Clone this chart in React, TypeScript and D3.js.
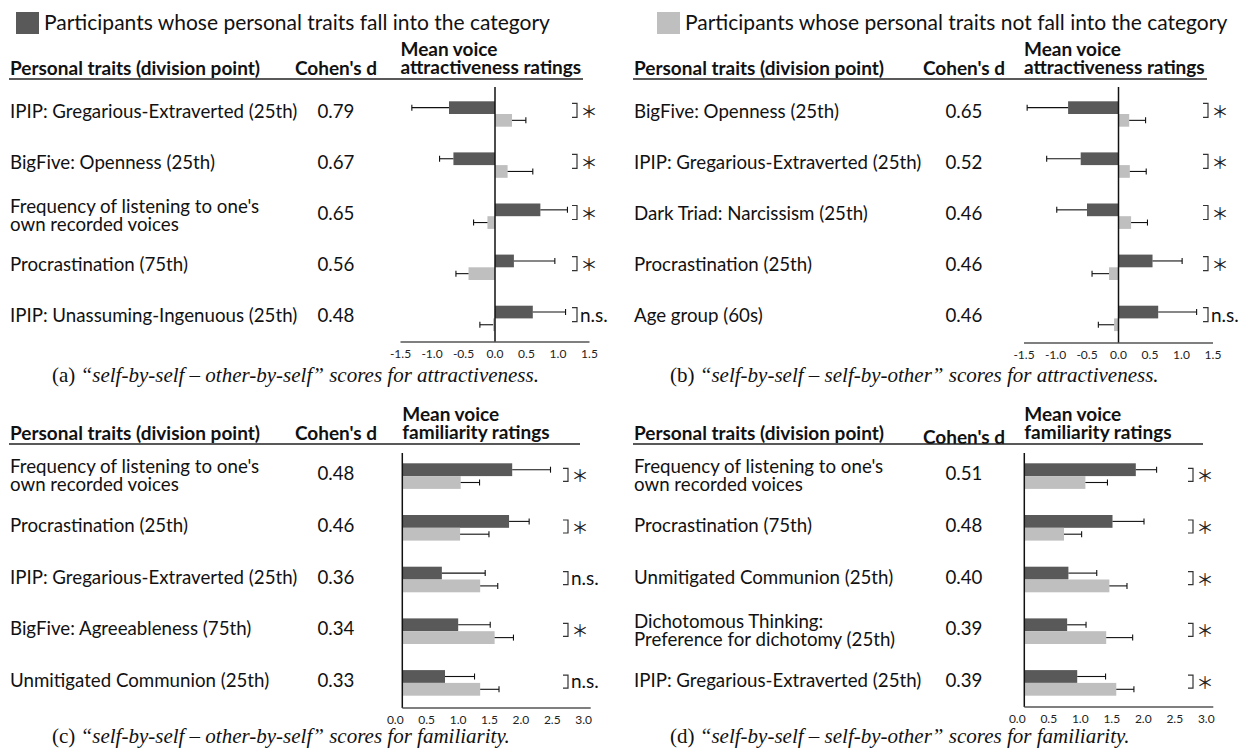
import React from 'react';
import * as d3 from 'd3';

// ---------- DATA ----------
const legendFall = 'Participants whose personal traits fall into the category';
const legendNotFall = 'Participants whose personal traits not fall into the category';

const headerTraits = 'Personal traits (division point)';
const headerCohen = "Cohen's d";

const ticksAttrValues = [-1.5, -1.0, -0.5, 0, 0.5, 1.0, 1.5];
const ticksAttrLabels = ['-1.5', '-1.0', '-0.5', '0.0', '0.5', '1.0', '1.5'];
const ticksFamValues = [0, 0.5, 1.0, 1.5, 2.0, 2.5, 3.0];
const ticksFamLabels = ['0.0', '0.5', '1.0', '1.5', '2.0', '2.5', '3.0'];

// (a) self-by-self – other-by-self, attractiveness
const traitsA = [
  ['IPIP: Gregarious-Extraverted (25th)'],
  ['BigFive: Openness (25th)'],
  ["Frequency of listening to one's", 'own recorded voices'],
  ['Procrastination (75th)'],
  ['IPIP: Unassuming-Ingenuous (25th)'],
];
const cohenA = ['0.79', '0.67', '0.65', '0.56', '0.48'];
const fallA = [-0.73, -0.66, 0.72, 0.30, 0.60];
const fallErrA = [0.59, 0.22, 0.43, 0.65, 0.52];
const notFallA = [0.27, 0.20, -0.12, -0.42, -0.03];
const notFallErrA = [0.22, 0.40, 0.22, 0.20, 0.21];
const sigA = ['*', '*', '*', '*', 'n.s.'];

// (b) self-by-self – self-by-other, attractiveness
const traitsB = [
  ['BigFive: Openness (25th)'],
  ['IPIP: Gregarious-Extraverted (25th)'],
  ['Dark Triad: Narcissism (25th)'],
  ['Procrastination (25th)'],
  ['Age group (60s)'],
];
const cohenB = ['0.65', '0.52', '0.46', '0.46', '0.46'];
const fallB = [-0.80, -0.60, -0.50, 0.54, 0.63];
const fallErrB = [0.65, 0.54, 0.48, 0.47, 0.61];
const notFallB = [0.17, 0.18, 0.20, -0.15, -0.07];
const notFallErrB = [0.26, 0.26, 0.26, 0.27, 0.25];
const sigB = ['*', '*', '*', '*', 'n.s.'];

// (c) self-by-self – other-by-self, familiarity
const traitsC = [
  ["Frequency of listening to one's", 'own recorded voices'],
  ['Procrastination (25th)'],
  ['IPIP: Gregarious-Extraverted (25th)'],
  ['BigFive: Agreeableness (75th)'],
  ['Unmitigated Communion (25th)'],
];
const cohenC = ['0.48', '0.46', '0.36', '0.34', '0.33'];
const fallC = [1.75, 1.70, 0.63, 0.89, 0.68];
const fallErrC = [0.61, 0.32, 0.69, 0.51, 0.47];
const notFallC = [0.93, 0.92, 1.24, 1.47, 1.24];
const notFallErrC = [0.30, 0.46, 0.28, 0.30, 0.30];
const sigC = ['*', '*', 'n.s.', '*', 'n.s.'];

// (d) self-by-self – self-by-other, familiarity
const traitsD = [
  ["Frequency of listening to one's", 'own recorded voices'],
  ['Procrastination (75th)'],
  ['Unmitigated Communion (25th)'],
  ['Dichotomous Thinking:', 'Preference for dichotomy (25th)'],
  ['IPIP: Gregarious-Extraverted (25th)'],
];
const cohenD = ['0.51', '0.48', '0.40', '0.39', '0.39'];
const fallD = [1.77, 1.40, 0.70, 0.68, 0.84];
const fallErrD = [0.33, 0.50, 0.45, 0.30, 0.45];
const notFallD = [0.97, 0.63, 1.35, 1.30, 1.46];
const notFallErrD = [0.35, 0.28, 0.28, 0.42, 0.28];
const sigD = ['*', '*', '*', '*', '*'];

const captionA = ['(a) ', '“self-by-self – other-by-self” scores for attractiveness.'];
const captionB = ['(b) ', '“self-by-self – self-by-other” scores for attractiveness.'];
const captionC = ['(c) ', '“self-by-self – other-by-self” scores for familiarity.'];
const captionD = ['(d) ', '“self-by-self – self-by-other” scores for familiarity.'];

// ---------- STYLE ----------
const FONT = "Lato, 'Noto Sans', sans-serif";
const SERIF = "'Liberation Serif', 'DejaVu Serif', serif";
const DARK = '#595959';
const LIGHT = '#bfbfbf';
const LABEL_SIZE = 18.7;
const HEAD_SIZE = 19;

type PanelCfg = {
  traits: string[][];
  cohen: string[];
  fall: number[];
  fallErr: number[];
  notFall: number[];
  notFallErr: number[];
  sig: string[];
  caption: string[];
  metric: string;
  domain: [number, number];
  tickValues: number[];
  tickLabels: string[];
  tickShift: number;
  xRange: [number, number];
  labelX: number;
  cohenX: number;
  top: number;
  pitch: number;
  barH: number;
  axisY: number;
  zeroTop: number;
  headerBase: number;
  cohenBase: number;
  underlineX1: number;
  bracketX: number;
  bracketTop: number;
  bracketBottom: number;
  captionX: number;
  captionY: number;
};

function Panel({ p }: { p: PanelCfg }) {
  const x = d3.scaleLinear().domain(p.domain).range(p.xRange);
  const y = d3
    .scaleBand<number>()
    .domain(d3.range(p.traits.length))
    .range([p.top, p.top + p.traits.length * p.pitch]);
  const x0 = x(0);
  const marks: React.ReactNode[] = [];
  p.traits.forEach((lines, i) => {
    const yt = y(i)!;
    const series = [
      { v: p.fall[i], e: p.fallErr[i], color: DARK, yy: yt },
      { v: p.notFall[i], e: p.notFallErr[i], color: LIGHT, yy: yt + p.barH },
    ];
    series.forEach((s, k) => {
      const xv = x(s.v);
      const xe = x(s.v + Math.sign(s.v) * s.e);
      const yc = s.yy + p.barH / 2;
      marks.push(
        <g key={`b${i}-${k}`}>
          <rect x={Math.min(x0, xv)} y={s.yy} width={Math.abs(xv - x0)} height={p.barH} fill={s.color} />
          <line x1={xv} x2={xe} y1={yc} y2={yc} stroke="#111" strokeWidth={1.1} />
          <line x1={xe} x2={xe} y1={yc - 3} y2={yc + 3} stroke="#111" strokeWidth={1.1} />
        </g>
      );
    });
    const center = yt + p.barH;
    if (lines.length === 1) {
      marks.push(
        <text key={`l${i}`} x={p.labelX} y={center + 4} fontFamily={FONT} fontSize={LABEL_SIZE} fill="#111">
          {lines[0]}
        </text>
      );
    } else {
      lines.forEach((t, j) => {
        marks.push(
          <text key={`l${i}-${j}`} x={p.labelX} y={center - 3 + j * 17.5} fontFamily={FONT} fontSize={LABEL_SIZE} fill="#111">
            {t}
          </text>
        );
      });
    }
    marks.push(
      <text key={`c${i}`} x={p.cohenX} y={center + 4} textAnchor="middle" fontFamily={FONT} fontSize={LABEL_SIZE} fill="#111">
        {p.cohen[i]}
      </text>
    );
    const bx = p.bracketX;
    marks.push(
      <path
        key={`k${i}`}
        d={`M${bx},${yt + p.bracketTop}H${bx + 5}V${yt + p.bracketBottom}H${bx}`}
        fill="none"
        stroke="#333"
        strokeWidth={1.2}
      />
    );
    if (p.sig[i] === 'n.s.') {
      marks.push(
        <text key={`s${i}`} x={bx + 8} y={yt + p.bracketBottom} fontFamily={FONT} fontSize={19} fill="#111">
          n.s.
        </text>
      );
    } else {
      marks.push(
        <text
          key={`s${i}`}
          x={bx + 17}
          y={yt + (p.bracketTop + p.bracketBottom) / 2}
          textAnchor="middle"
          dominantBaseline="central"
          fontFamily="'Noto Sans CJK JP', sans-serif"
          fontSize={17}
          fill="#222"
        >
          ＊
        </text>
      );
    }
  });

  return (
    <g>
      <text x={p.labelX} y={p.headerBase} fontFamily={FONT} fontWeight="bold" fontSize={HEAD_SIZE} fill="#111">
        {headerTraits}
      </text>
      <text x={p.cohenX} y={p.cohenBase} textAnchor="middle" fontFamily={FONT} fontWeight="bold" fontSize={HEAD_SIZE} fill="#111">
        {headerCohen}
      </text>
      <text x={p.xRange[0]} y={p.headerBase - 19} fontFamily={FONT} fontWeight="bold" fontSize={HEAD_SIZE} fill="#111">
        Mean voice
      </text>
      <text x={p.xRange[0]} y={p.headerBase - 1} fontFamily={FONT} fontWeight="bold" fontSize={HEAD_SIZE} fill="#111">
        {p.metric}
      </text>
      <line x1={p.labelX - 1} x2={p.underlineX1} y1={p.headerBase + 4} y2={p.headerBase + 4} stroke="#222" strokeWidth={1.3} />
      {marks}
      <line x1={x0} x2={x0} y1={p.zeroTop} y2={p.axisY} stroke="#111" strokeWidth={1.5} />
      <line x1={p.xRange[0]} x2={p.xRange[1]} y1={p.axisY} y2={p.axisY} stroke="#555" strokeWidth={1.5} />
      {p.tickValues.map((v, i) => (
        <text
          key={`t${i}`}
          x={x(v) + p.tickShift}
          y={p.axisY + 16}
          textAnchor="middle"
          fontFamily={FONT}
          fontSize={12}
          fill="#222"
        >
          {p.tickLabels[i]}
        </text>
      ))}
      <text x={p.captionX} y={p.captionY} fontFamily={SERIF} fontSize={21} fill="#111">
        <tspan>{p.caption[0]}</tspan>
        <tspan fontStyle="italic">{p.caption[1]}</tspan>
      </text>
    </g>
  );
}

const panels: PanelCfg[] = [
  {
    traits: traitsA, cohen: cohenA, fall: fallA, fallErr: fallErrA, notFall: notFallA, notFallErr: notFallErrA, sig: sigA,
    caption: captionA, metric: 'attractiveness ratings', domain: [-1.5, 1.5], tickValues: ticksAttrValues, tickLabels: ticksAttrLabels,
    tickShift: 0, xRange: [400.5, 589.5], labelX: 10, cohenX: 336, top: 101.3, pitch: 51.1, barH: 12.7, axisY: 342, zeroTop: 87,
    headerBase: 75, cohenBase: 75, underlineX1: 583, bracketX: 572, bracketTop: 2, bracketBottom: 16, captionX: 52, captionY: 382,
  },
  {
    traits: traitsB, cohen: cohenB, fall: fallB, fallErr: fallErrB, notFall: notFallB, notFallErr: notFallErrB, sig: sigB,
    caption: captionB, metric: 'attractiveness ratings', domain: [-1.5, 1.5], tickValues: ticksAttrValues, tickLabels: ticksAttrLabels,
    tickShift: 0, xRange: [1024, 1213], labelX: 634, cohenX: 964, top: 101.3, pitch: 51.1, barH: 12.7, axisY: 343, zeroTop: 87,
    headerBase: 75, cohenBase: 75, underlineX1: 1207, bracketX: 1203, bracketTop: 2, bracketBottom: 16, captionX: 670, captionY: 382,
  },
  {
    traits: traitsC, cohen: cohenC, fall: fallC, fallErr: fallErrC, notFall: notFallC, notFallErr: notFallErrC, sig: sigC,
    caption: captionC, metric: 'familiarity ratings', domain: [0, 3], tickValues: ticksFamValues, tickLabels: ticksFamLabels,
    tickShift: -7, xRange: [402.3, 590.7], labelX: 10, cohenX: 336, top: 463.3, pitch: 51.7, barH: 12.8, axisY: 708, zeroTop: 453,
    headerBase: 440, cohenBase: 440, underlineX1: 580, bracketX: 563, bracketTop: 5, bracketBottom: 18, captionX: 52, captionY: 743,
  },
  {
    traits: traitsD, cohen: cohenD, fall: fallD, fallErr: fallErrD, notFall: notFallD, notFallErr: notFallErrD, sig: sigD,
    caption: captionD, metric: 'familiarity ratings', domain: [0, 3], tickValues: ticksFamValues, tickLabels: ticksFamLabels,
    tickShift: -7, xRange: [1024.3, 1213.3], labelX: 634, cohenX: 964, top: 463.3, pitch: 51.7, barH: 12.8, axisY: 707, zeroTop: 453,
    headerBase: 440, cohenBase: 444, underlineX1: 1203, bracketX: 1188, bracketTop: 5, bracketBottom: 18, captionX: 670, captionY: 743,
  },
];

export default function App() {
  return (
    <svg
      width={1250}
      height={749}
      viewBox="0 0 1250 749"
      style={{ position: 'absolute', left: 0, top: 0, background: '#fff', display: 'block' }}
    >
      <rect x={0} y={0} width={1250} height={749} fill="#fff" />
      <rect x={16} y={12} width={23} height={22} fill={DARK} />
      <text x={44} y={30} fontFamily={FONT} fontSize={21} fill="#111">
        {legendFall}
      </text>
      <rect x={657} y={12} width={23} height={22} fill={LIGHT} />
      <text x={685} y={30} fontFamily={FONT} fontSize={21} fill="#111">
        {legendNotFall}
      </text>
      {panels.map((p, i) => (
        <Panel key={i} p={p} />
      ))}
    </svg>
  );
}
